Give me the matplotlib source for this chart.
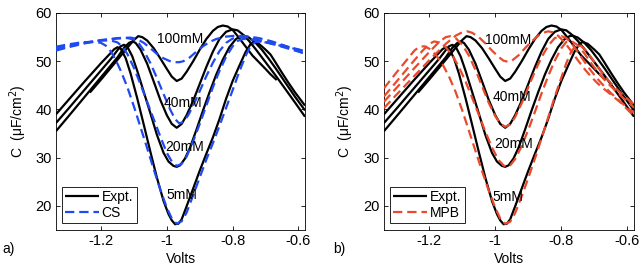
import matplotlib
matplotlib.use("Agg")
import matplotlib.pyplot as plt

plt.rcParams['font.family'] = ['Liberation Sans', 'DejaVu Sans']
plt.rcParams['axes.unicode_minus'] = False

# ---------------- data (Volts, capacitance uF/cm^2) ----------------
# Experimental curves
V_E5 = [-1.337, -1.30, -1.25, -1.20, -1.175, -1.16, -1.15, -1.14, -1.125, -1.11, -1.09, -1.07, -1.05, -1.03, -1.01,
        -0.995, -0.985, -0.975, -0.965, -0.955, -0.94, -0.92, -0.90, -0.88, -0.86, -0.84, -0.82, -0.80, -0.78, -0.76,
        -0.745, -0.735, -0.72, -0.70, -0.685, -0.67, -0.65, -0.63, -0.61, -0.58]
C_E5 = [39.0, 41.9, 45.8, 49.6, 51.4, 52.5, 52.9, 52.6, 50.6, 47.4, 42.3, 36.8, 31.2, 25.8, 21.0,
        18.3, 17.0, 16.2, 16.3, 17.2, 19.9, 23.6, 27.3, 30.8, 34.2, 38.0, 42.2, 45.9, 49.0, 52.0,
        53.6, 54.0, 53.6, 52.4, 51.4, 49.8, 47.6, 45.5, 43.5, 40.8]

V_E20 = [-1.337, -1.30, -1.25, -1.20, -1.17, -1.15, -1.14, -1.13, -1.12, -1.105, -1.09, -1.07, -1.05, -1.03, -1.01,
         -0.995, -0.98, -0.97, -0.96, -0.945, -0.93, -0.91, -0.89, -0.87, -0.85, -0.83, -0.81, -0.79, -0.775, -0.765,
         -0.75, -0.73, -0.71, -0.69, -0.67, -0.65, -0.63, -0.61, -0.58]
C_E20 = [37.2, 40.1, 44.1, 48.1, 50.5, 52.3, 53.1, 53.4, 53.0, 51.0, 48.0, 43.6, 39.2, 34.7, 31.0,
         29.2, 28.3, 28.1, 28.4, 29.8, 32.0, 35.8, 39.8, 43.6, 47.2, 50.3, 52.9, 54.6, 55.2, 55.3,
         54.9, 53.8, 52.3, 50.5, 48.6, 46.6, 44.6, 42.6, 39.8]

V_E40 = [-1.337, -1.30, -1.25, -1.20, -1.15, -1.13, -1.115, -1.105, -1.095, -1.08, -1.06, -1.04, -1.02, -1.00, -0.985,
         -0.97, -0.955, -0.94, -0.92, -0.90, -0.88, -0.86, -0.84, -0.82, -0.80, -0.785, -0.77, -0.75, -0.73, -0.71,
         -0.69, -0.67, -0.65, -0.63, -0.61, -0.58]
C_E40 = [35.5, 38.5, 42.6, 46.7, 50.8, 52.8, 53.8, 54.1, 53.8, 52.4, 49.5, 45.8, 42.0, 38.8, 37.0,
         36.2, 37.0, 38.8, 41.8, 45.3, 48.8, 52.0, 54.6, 56.1, 56.6, 56.4, 55.6, 54.2, 52.5, 50.7,
         48.9, 47.1, 45.2, 43.3, 41.4, 38.5]

V_E100 = [-1.234, -1.20, -1.15, -1.12, -1.10, -1.087, -1.075, -1.06, -1.04, -1.02, -1.00, -0.985, -0.97, -0.955, -0.94,
          -0.92, -0.90, -0.88, -0.86, -0.845, -0.83, -0.815, -0.80, -0.78, -0.76, -0.74, -0.72, -0.70, -0.685, -0.666]
C_E100 = [43.5, 46.2, 50.3, 52.8, 54.4, 55.2, 55.0, 54.3, 52.7, 50.6, 48.4, 46.8, 45.9, 46.4, 47.8,
          50.0, 52.4, 54.6, 56.3, 57.1, 57.4, 57.2, 56.5, 54.8, 53.0, 51.2, 49.8, 48.4, 47.3, 46.1]

# CS model curves (panel a)
V_CS5 = [-1.337, -1.30, -1.26, -1.22, -1.20, -1.185, -1.17, -1.155, -1.14, -1.12, -1.10, -1.08, -1.06, -1.04, -1.02,
         -1.00, -0.985, -0.97, -0.955, -0.94, -0.92, -0.90, -0.88, -0.86, -0.84, -0.82, -0.80, -0.78, -0.76, -0.745,
         -0.73, -0.71, -0.68, -0.65, -0.62, -0.58]
C_CS5 = [53.0, 53.5, 53.9, 54.0, 53.8, 53.2, 52.0, 50.2, 48.0, 44.6, 40.6, 36.3, 32.0, 27.6, 23.4,
         19.6, 17.4, 16.3, 16.8, 18.6, 22.2, 25.9, 29.6, 33.0, 36.6, 40.3, 44.0, 47.8, 51.2, 53.2,
         54.0, 54.1, 53.8, 53.3, 52.8, 52.1]

V_CS20 = [-1.337, -1.30, -1.25, -1.20, -1.17, -1.15, -1.135, -1.12, -1.10, -1.08, -1.06, -1.04, -1.02, -1.00, -0.985,
          -0.97, -0.955, -0.94, -0.92, -0.90, -0.88, -0.86, -0.84, -0.82, -0.80, -0.785, -0.77, -0.75, -0.72, -0.68,
          -0.64, -0.60, -0.58]
C_CS20 = [52.6, 53.2, 53.9, 54.3, 54.3, 53.9, 53.0, 51.5, 48.6, 45.2, 41.6, 38.0, 34.4, 31.0, 29.2,
          28.3, 28.7, 30.2, 33.4, 37.0, 40.8, 44.6, 48.0, 50.9, 53.1, 54.2, 54.6, 54.6, 54.2, 53.6,
          53.0, 52.4, 52.0]

V_CS40 = [-1.337, -1.30, -1.25, -1.20, -1.15, -1.12, -1.10, -1.085, -1.07, -1.05, -1.03, -1.01, -0.99, -0.975, -0.962,
          -0.95, -0.935, -0.92, -0.90, -0.88, -0.86, -0.84, -0.82, -0.80, -0.78, -0.76, -0.73, -0.70, -0.66, -0.62,
          -0.58]
C_CS40 = [52.2, 52.9, 53.7, 54.3, 54.7, 54.8, 54.5, 53.7, 52.2, 49.6, 46.5, 43.2, 40.0, 38.0, 37.1,
          37.4, 38.8, 40.8, 43.8, 46.9, 49.7, 52.1, 53.8, 54.7, 55.0, 55.0, 54.6, 54.0, 53.2, 52.4,
          51.6]

V_CS100 = [-1.337, -1.30, -1.25, -1.20, -1.15, -1.11, -1.09, -1.07, -1.05, -1.03, -1.01, -0.99, -0.975, -0.962, -0.95,
           -0.93, -0.91, -0.89, -0.87, -0.85, -0.82, -0.79, -0.76, -0.72, -0.68, -0.64, -0.60, -0.58]
C_CS100 = [52.4, 53.0, 53.8, 54.4, 54.8, 54.9, 54.6, 53.8, 52.7, 51.5, 50.6, 50.0, 49.8, 49.8, 50.0,
           50.8, 52.0, 53.1, 54.0, 54.6, 55.1, 55.3, 55.2, 54.8, 54.1, 53.2, 52.1, 51.5]

# MPB model curves (panel b)
V_MPB5 = [-1.337, -1.30, -1.27, -1.245, -1.23, -1.215, -1.20, -1.18, -1.16, -1.14, -1.12, -1.10, -1.08, -1.06, -1.04,
          -1.02, -1.00, -0.985, -0.97, -0.955, -0.94, -0.92, -0.90, -0.88, -0.86, -0.84, -0.82, -0.80, -0.785, -0.77,
          -0.755, -0.74, -0.72, -0.70, -0.68, -0.66, -0.64, -0.62, -0.60, -0.58]
C_MPB5 = [44.4, 47.6, 50.1, 52.2, 53.0, 53.1, 52.6, 51.3, 49.4, 46.8, 43.6, 39.8, 35.6, 31.4, 27.2,
          23.2, 19.6, 17.4, 16.3, 16.7, 18.5, 22.0, 25.8, 29.8, 34.0, 38.3, 42.6, 46.6, 49.6, 52.0,
          53.3, 53.2, 51.8, 49.8, 47.9, 46.2, 44.7, 43.4, 42.2, 41.0]

V_MPB20 = [-1.337, -1.30, -1.26, -1.22, -1.20, -1.185, -1.17, -1.15, -1.13, -1.11, -1.09, -1.07, -1.05, -1.03, -1.01,
           -0.99, -0.975, -0.965, -0.955, -0.94, -0.92, -0.90, -0.88, -0.86, -0.84, -0.82, -0.80, -0.785, -0.77, -0.75,
           -0.73, -0.71, -0.69, -0.67, -0.65, -0.63, -0.60, -0.58]
C_MPB20 = [42.7, 45.7, 49.0, 52.2, 53.6, 54.1, 53.9, 52.9, 51.2, 48.8, 45.8, 42.4, 38.9, 35.4, 32.1,
           29.5, 28.4, 28.1, 28.4, 29.7, 32.4, 35.8, 39.5, 43.3, 46.9, 50.1, 52.7, 54.0, 54.2, 53.3,
           51.6, 49.6, 47.8, 46.2, 44.8, 43.5, 41.6, 40.4]

V_MPB40 = [-1.337, -1.30, -1.25, -1.20, -1.17, -1.15, -1.135, -1.12, -1.10, -1.08, -1.06, -1.04, -1.02, -1.00, -0.985,
           -0.97, -0.955, -0.94, -0.92, -0.90, -0.88, -0.86, -0.84, -0.82, -0.80, -0.785, -0.77, -0.75, -0.73, -0.71,
           -0.69, -0.67, -0.65, -0.62, -0.58]
C_MPB40 = [41.6, 44.4, 48.2, 51.9, 54.0, 55.0, 55.2, 54.8, 53.4, 51.2, 48.2, 44.8, 41.4, 38.6, 37.1,
           36.4, 36.9, 38.4, 41.3, 44.6, 47.9, 50.8, 53.2, 54.8, 55.2, 54.8, 53.8, 51.9, 49.9, 48.0,
           46.3, 44.8, 43.4, 41.5, 39.3]

V_MPB100 = [-1.337, -1.30, -1.25, -1.20, -1.15, -1.12, -1.10, -1.085, -1.07, -1.05, -1.03, -1.01, -0.99, -0.975, -0.962,
            -0.95, -0.93, -0.91, -0.89, -0.87, -0.855, -0.84, -0.825, -0.81, -0.79, -0.77, -0.75, -0.73, -0.71, -0.69,
            -0.67, -0.65, -0.62, -0.58]
C_MPB100 = [40.3, 43.0, 46.6, 50.2, 53.6, 55.3, 56.0, 56.2, 55.9, 55.0, 53.7, 52.2, 50.9, 50.1, 49.9,
            50.1, 51.2, 52.7, 54.1, 55.3, 55.9, 56.2, 56.0, 55.3, 53.9, 52.1, 50.2, 48.4, 46.8, 45.4,
            44.2, 43.1, 41.4, 38.6]

conc_labels = ["100mM", "40mM", "20mM", "5mM"]
label_pos_a = [(-0.960, 54.7), (-0.950, 41.4), (-0.947, 32.25), (-0.955, 22.3)]
label_pos_b = [(-0.961, 54.3), (-0.951, 42.5), (-0.943, 32.75), (-0.961, 21.8)]

xticks = [-1.2, -1.0, -0.8, -0.6]
xticklabels = ["-1.2", "-1", "-0.8", "-0.6"]
yticks = [20, 30, 40, 50, 60]

expt = [(V_E5, C_E5), (V_E20, C_E20), (V_E40, C_E40), (V_E100, C_E100)]
cs = [(V_CS5, C_CS5), (V_CS20, C_CS20), (V_CS40, C_CS40), (V_CS100, C_CS100)]
mpb = [(V_MPB5, C_MPB5), (V_MPB20, C_MPB20), (V_MPB40, C_MPB40), (V_MPB100, C_MPB100)]

for v, c in expt + cs + mpb:
    assert len(v) == len(c), (len(v), len(c))

W, H = 642, 277
fig = plt.figure(figsize=(W / 100, H / 100), dpi=100)
ax1 = fig.add_axes([56 / W, 47 / H, 249 / W, 217 / H])
ax2 = fig.add_axes([384 / W, 47 / H, 250 / W, 217 / H])

BLUE = '#1f4af2'
RED = '#ea4a2c'

panels = [
    (ax1, cs, BLUE, 'CS', label_pos_a, 'a)', 2 / W),
    (ax2, mpb, RED, 'MPB', label_pos_b, 'b)', 333 / W),
]

for ax, models, col, mname, lpos, tag, tagx in panels:
    hE = None
    for v, c in expt:
        hE, = ax.plot(v, c, color='black', lw=1.6, solid_capstyle='butt', zorder=2)
    hM = None
    for v, c in models:
        hM, = ax.plot(v, c, color=col, lw=1.6, ls=(0, (4.2, 2.2)), zorder=3)
    for txt, (x, y) in zip(conc_labels, lpos):
        ax.text(x, y, txt, ha='center', va='center', fontsize=10, zorder=4)
    ax.set_xlim(-1.337, -0.58)
    ax.set_ylim(15, 60)
    ax.set_xticks(xticks)
    ax.set_xticklabels(xticklabels)
    ax.set_yticks(yticks)
    ax.tick_params(direction='in', length=3, width=0.6, top=True, right=True,
                   labelsize=10.5, pad=3)
    for s in ax.spines.values():
        s.set_linewidth(0.6)
    ax.set_xlabel('Volts', fontsize=10)
    ax.set_ylabel('C  (\u03bcF/cm$^2$)', fontsize=10)
    ax.xaxis.set_label_coords(0.5, -0.10)
    ax.yaxis.set_label_coords(-0.11, 0.5)
    leg = ax.legend([hE, hM], ['Expt.', mname], loc='lower left',
                    bbox_to_anchor=(0.024, 0.032), borderaxespad=0, fontsize=10,
                    handlelength=2.4, handletextpad=0.2, borderpad=0.25,
                    labelspacing=0.1, fancybox=False, framealpha=1)
    leg.get_frame().set_edgecolor('black')
    leg.get_frame().set_linewidth(0.6)
    fig.text(tagx, 1 - 249 / H, tag, ha='left', va='center', fontsize=10)

fig.savefig('out.png', dpi=100)
